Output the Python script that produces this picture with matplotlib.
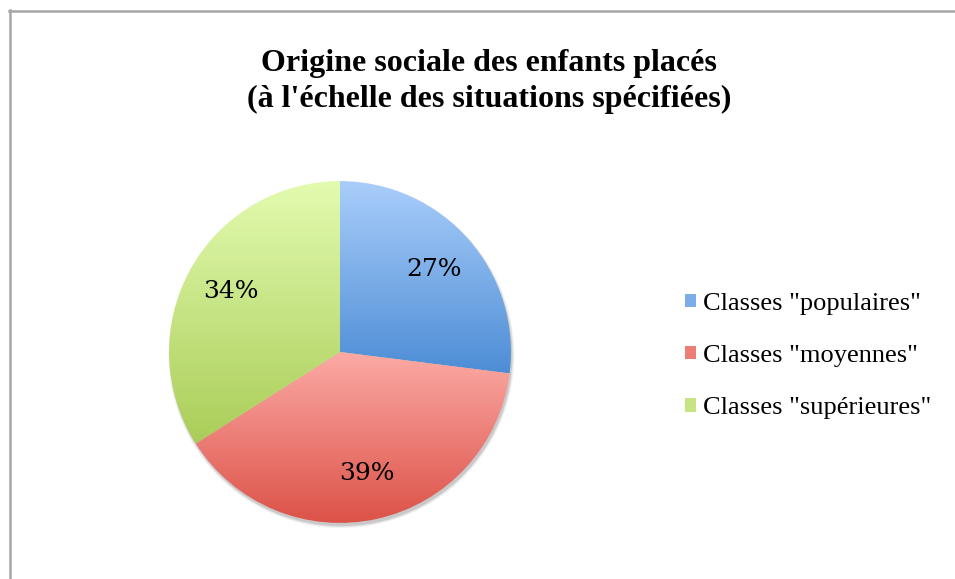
import numpy as np
import matplotlib
matplotlib.use('Agg')
import matplotlib.pyplot as plt
from matplotlib.patches import Patch, Circle
from matplotlib.lines import Line2D
from matplotlib.colors import LinearSegmentedColormap

labels = ['Classes "populaires"', 'Classes "moyennes"', 'Classes "supérieures"']
values = [27, 39, 34]
top_colors = ['#aacefb', '#fcaaa5', '#e3fbb0']
bottom_colors = ['#4d8dd5', '#dc5248', '#aacd58']

fig = plt.figure(figsize=(9.55, 5.79), dpi=100)

# chart frame (only left/top edges visible in the crop)
fig.add_artist(Line2D([9.5 / 955, 9.5 / 955], [0, 1 - 10 / 579], color='#a6a6a6', lw=1.8))
fig.add_artist(Line2D([9 / 955, 1], [1 - 10.5 / 579, 1 - 10.5 / 579], color='#a6a6a6', lw=1.8))

fig.text(0.512, 0.8595, "Origine sociale des enfants placés\n(à l'échelle des situations spécifiées)",
         ha='center', va='center', fontsize=23, fontweight='bold',
         family='Liberation Serif', linespacing=1.32)

ax = fig.add_axes([152 / 955, 39 / 579, 376 / 955, 376 / 579])
ax.set_xlim(-1.1, 1.1)
ax.set_ylim(-1.1, 1.1)
ax.set_aspect('equal')
ax.axis('off')

# soft shadow under the pie
for r, a in [(1.012, 0.05), (1.006, 0.07), (1.0, 0.10)]:
    ax.add_patch(Circle((0.008, -0.018), r, color='black', alpha=a, lw=0, zorder=0))

wedges, texts, autotexts = ax.pie(values, startangle=90, counterclock=False,
                                  autopct='%d%%', pctdistance=0.73, radius=1.0)

for w, c0, c1 in zip(wedges, top_colors, bottom_colors):
    w.set_facecolor('none')
    w.set_edgecolor('none')
    bb = w.get_path().get_extents()
    cmap = LinearSegmentedColormap.from_list('g', [c0, c1])
    grad = np.linspace(0, 1, 256).reshape(-1, 1)
    im = ax.imshow(grad, cmap=cmap, extent=(bb.x0, bb.x1, bb.y0, bb.y1),
                   aspect='auto', zorder=1, interpolation='bilinear')
    im.set_clip_path(w)
for t in autotexts:
    t.set_fontfamily('DejaVu Serif')
    t.set_fontsize(18)
    t.set_color('black')
    t.set_zorder(3)
ax.set_xlim(-1.1, 1.1)
ax.set_ylim(-1.1, 1.1)

handles = [Patch(facecolor=LinearSegmentedColormap.from_list('g', [a, b])(0.5), edgecolor='none')
           for a, b in zip(top_colors, bottom_colors)]
fig.legend(handles, labels, loc='center left', bbox_to_anchor=(685 / 955, 1 - 356 / 579),
           frameon=False, prop=dict(family='Liberation Serif', size=19),
           handlelength=0.4, handleheight=0.4, handletextpad=0.3, labelspacing=1.15,
           borderpad=0, borderaxespad=0)

fig.savefig('out.png', dpi=100)
